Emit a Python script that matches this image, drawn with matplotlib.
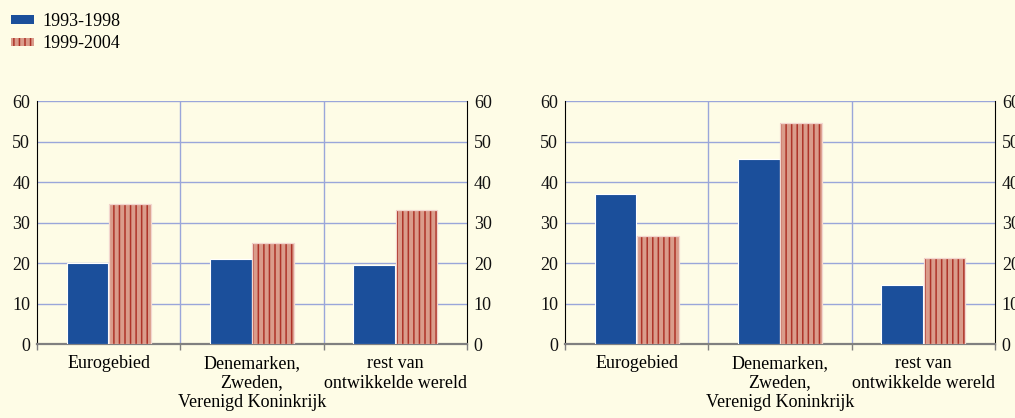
import matplotlib
matplotlib.use("Agg")
import matplotlib.pyplot as plt
from matplotlib.patches import Patch
import numpy as np

# ── Data ────────────────────────────────────────────────────────────────
categories = ["Eurogebied", "Denemarken,\nZweden,\nVerenigd Koninkrijk",
              "rest van\nontwikkelde wereld"]
series_names = ["1993-1998", "1999-2004"]
left_a = [20.0, 21.0, 19.5]
left_b = [34.5, 25.0, 33.0]
right_a = [37.0, 45.8, 14.7]
right_b = [26.8, 54.5, 21.3]
yticks = [0, 10, 20, 30, 40, 50, 60]

# ── Styling ─────────────────────────────────────────────────────────────
C_BG = "#FEFCE6"
C_BLUE = "#1B4F9B"
C_SALMON = "#DA9C8B"
C_HATCH = "#AE3328"
C_GRID = "#9AA6DA"
C_BASE = "#808080"

plt.rcParams["font.family"] = ["Liberation Serif", "DejaVu Serif"]
plt.rcParams["hatch.color"] = C_HATCH
plt.rcParams["hatch.linewidth"] = 1.1

fig = plt.figure(figsize=(10.15, 4.18), dpi=100, facecolor=C_BG)

FS = 13
W = 0.29
OFF = 0.147


def panel(rect, a_vals, b_vals):
    ax = fig.add_axes(rect, facecolor=C_BG)
    x = np.arange(len(categories)) + 0.5
    ax.bar(x - OFF, a_vals, W, color=C_BLUE, edgecolor="white", lw=0.8, zorder=3)
    ax.bar(x + OFF, b_vals, W, color=C_SALMON, edgecolor=C_HATCH, lw=0,
           hatch="|||", zorder=3)
    ax.bar(x + OFF, b_vals, W, fill=False, edgecolor="#F3D6CF", lw=0.9, zorder=4)
    ax.set_xlim(0, len(categories))
    ax.set_ylim(0, 60)
    ax.set_yticks(yticks)
    ax.tick_params(axis="y", which="both", length=0, labelsize=FS, pad=5,
                   labelleft=True, labelright=True)
    for v in yticks[1:]:
        ax.axhline(v, color=C_GRID, lw=1.0, zorder=1)
    for v in range(1, len(categories)):
        ax.axvline(v, color=C_GRID, lw=1.0, zorder=1)
    ax.set_xticks(range(len(categories) + 1))
    ax.set_xticklabels([])
    ax.tick_params(axis="x", length=4, width=1, color=C_BASE, direction="out")
    for i, lbl in enumerate(categories):
        ax.text(i + 0.5, -2.7, lbl, ha="center", va="top", fontsize=FS,
                linespacing=1.2)
    ax.spines["top"].set_visible(False)
    ax.spines["left"].set_color("black")
    ax.spines["right"].set_color("black")
    ax.spines["bottom"].set_color(C_BASE)
    ax.spines["bottom"].set_linewidth(1.6)
    for t in ax.get_yticklabels():
        t.set_color("#111111")
    return ax


panel([0.0365, 0.177, 0.4235, 0.581], left_a, left_b)
panel([0.5567, 0.177, 0.4235, 0.581], right_a, right_b)

handles = [Patch(facecolor=C_BLUE, edgecolor="none"),
           Patch(facecolor=C_SALMON, edgecolor=C_HATCH, lw=0, hatch="|||")]
fig.legend(handles, series_names, loc="upper left", bbox_to_anchor=(0.0, 0.995),
           frameon=False, fontsize=13, handlelength=1.28, handleheight=0.33,
           handletextpad=0.45, labelspacing=0.3, borderaxespad=0.2)

fig.savefig("out.png", dpi=100, facecolor=C_BG)
